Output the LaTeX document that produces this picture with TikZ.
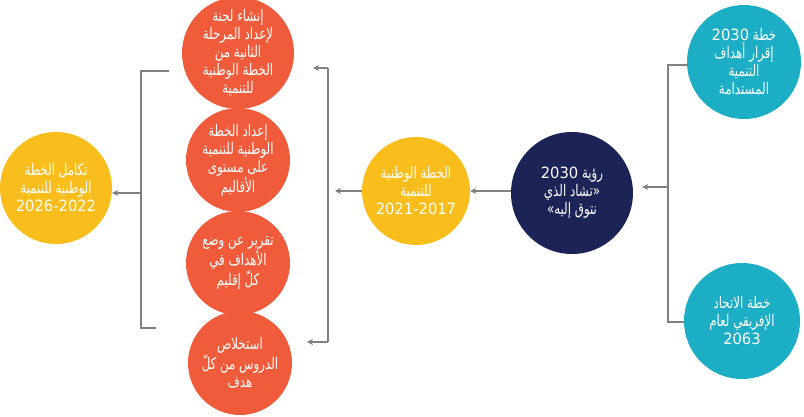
\documentclass[tikz,border=0pt]{standalone}
\usepackage{fontspec}
\newfontfamily\arabicfont[Script=Arabic, FakeStretch=0.74]{DejaVu Sans}
\newfontfamily\digitfont[FakeStretch=0.95]{DejaVu Sans}
\TeXXeTstate=1
\usetikzlibrary{arrows.meta}
\definecolor{cred}{HTML}{EF5B3B}
\definecolor{cyel}{HTML}{F9BE1C}
\definecolor{cnavy}{HTML}{1C2357}
\definecolor{cteal}{HTML}{1BAEC4}
\definecolor{cgray}{HTML}{808080}
\newcommand{\RL}[1]{\beginR #1\endR}
\newcommand{\DG}[1]{{\digitfont\fontsize{15.5}{18}\selectfont #1}}
\tikzset{
  bubble/.style={circle, inner sep=0pt, text=white, align=center,
    font=\arabicfont\fontsize{16}{18}\selectfont},
  redc/.style={bubble, fill=cred, minimum size=104pt},
  yelc/.style={bubble, fill=cyel, minimum size=110pt},
  navyc/.style={bubble, fill=cnavy, minimum size=122pt},
  tealc/.style={bubble, fill=cteal, minimum size=114pt},
  link/.style={draw=cgray, line width=1.4pt},
  arr/.style={link, -{Stealth[length=6pt,width=6pt]}}
}
\begin{document}
\begin{tikzpicture}[x=1pt,y=-1pt]
\useasboundingbox (0,0) rectangle (804,417);
% right teal
\node[tealc] (tt) at (744,62) {\DG{2030} \RL{خطة}\\ \RL{إقرار أهداف}\\ \RL{التنمية}\\ \RL{المستدامة}};
\node[tealc, minimum size=116pt] (tb) at (742,321) {\RL{خطة الاتحاد}\\ \RL{الإفريقي لعام}\\ \DG{2063}};
% navy
\node[navyc] (nv) at (572,193) {\DG{2030} \RL{رؤية}\\ \RL{تشاد الذي}«\\ »\RL{نتوق إليه}};
% middle yellow
\node[yelc, minimum size=108pt] (ym) at (416,191) {\RL{الخطة الوطنية}\\ \RL{للتنمية}\\ \DG{2021-2017}};
% red
\node[redc, minimum size=112pt] (r1) at (238,53) {\RL{إنشاء لجنة}\\ \RL{لإعداد المرحلة}\\ \RL{الثانية من}\\ \RL{الخطة الوطنية}\\ \RL{للتنمية}};
\node[redc] (r2) at (238,160) {\RL{إعداد الخطة}\\ \RL{الوطنية للتنمية}\\ \RL{على مستوى}\\ \RL{الأقاليم}};
\node[redc] (r3) at (238,263) {\RL{تقرير عن وضع}\\ \RL{الأهداف في}\\ \RL{كلّ إقليم}};
\node[redc] (r4) at (240,363) {\RL{استخلاص}\\ \RL{الدروس من كلّ}\\ \RL{هدف}};
% left yellow
\node[yelc, minimum size=112pt] (yl) at (56,188) {\RL{تكامل الخطة}\\ \RL{الوطنية للتنمية}\\ \DG{2026-2022}};

% right bracket
\coordinate (rbt) at (668,65);
\coordinate (rbb) at (668,322);
\coordinate (rbm) at (668,187);
\draw[link] (tt.west |- rbt) -- (rbt) -- (rbb) -- (tb.west |- rbb);
\draw[arr, shorten >=9pt] (rbm) -- (nv.east |- rbm);
% navy to middle yellow
\draw[arr] (nv.west |- ym.east) -- (ym.east);
% middle bracket
\coordinate (mtip) at (335,191);
\coordinate (mbt) at (328,68);
\coordinate (mbb) at (328,342);
\coordinate (mat) at (313,68);
\coordinate (mab) at (307,342);
\draw[arr] (ym.west) -- (mtip);
\draw[link] (mbt) -- (mbb);
\draw[arr] (mbt) -- (mat);
\draw[arr] (mbb) -- (mab);
% left bracket
\coordinate (lbt) at (141,71);
\coordinate (lbb) at (141,328);
\coordinate (lbm) at (141,193);
\coordinate (lt) at (169,71);
\coordinate (lb) at (156,328);
\draw[link] (lt) -- (lbt) -- (lbb) -- (lb);
\draw[arr] (lbm) -- (yl.east |- lbm);
\end{tikzpicture}
\end{document}
